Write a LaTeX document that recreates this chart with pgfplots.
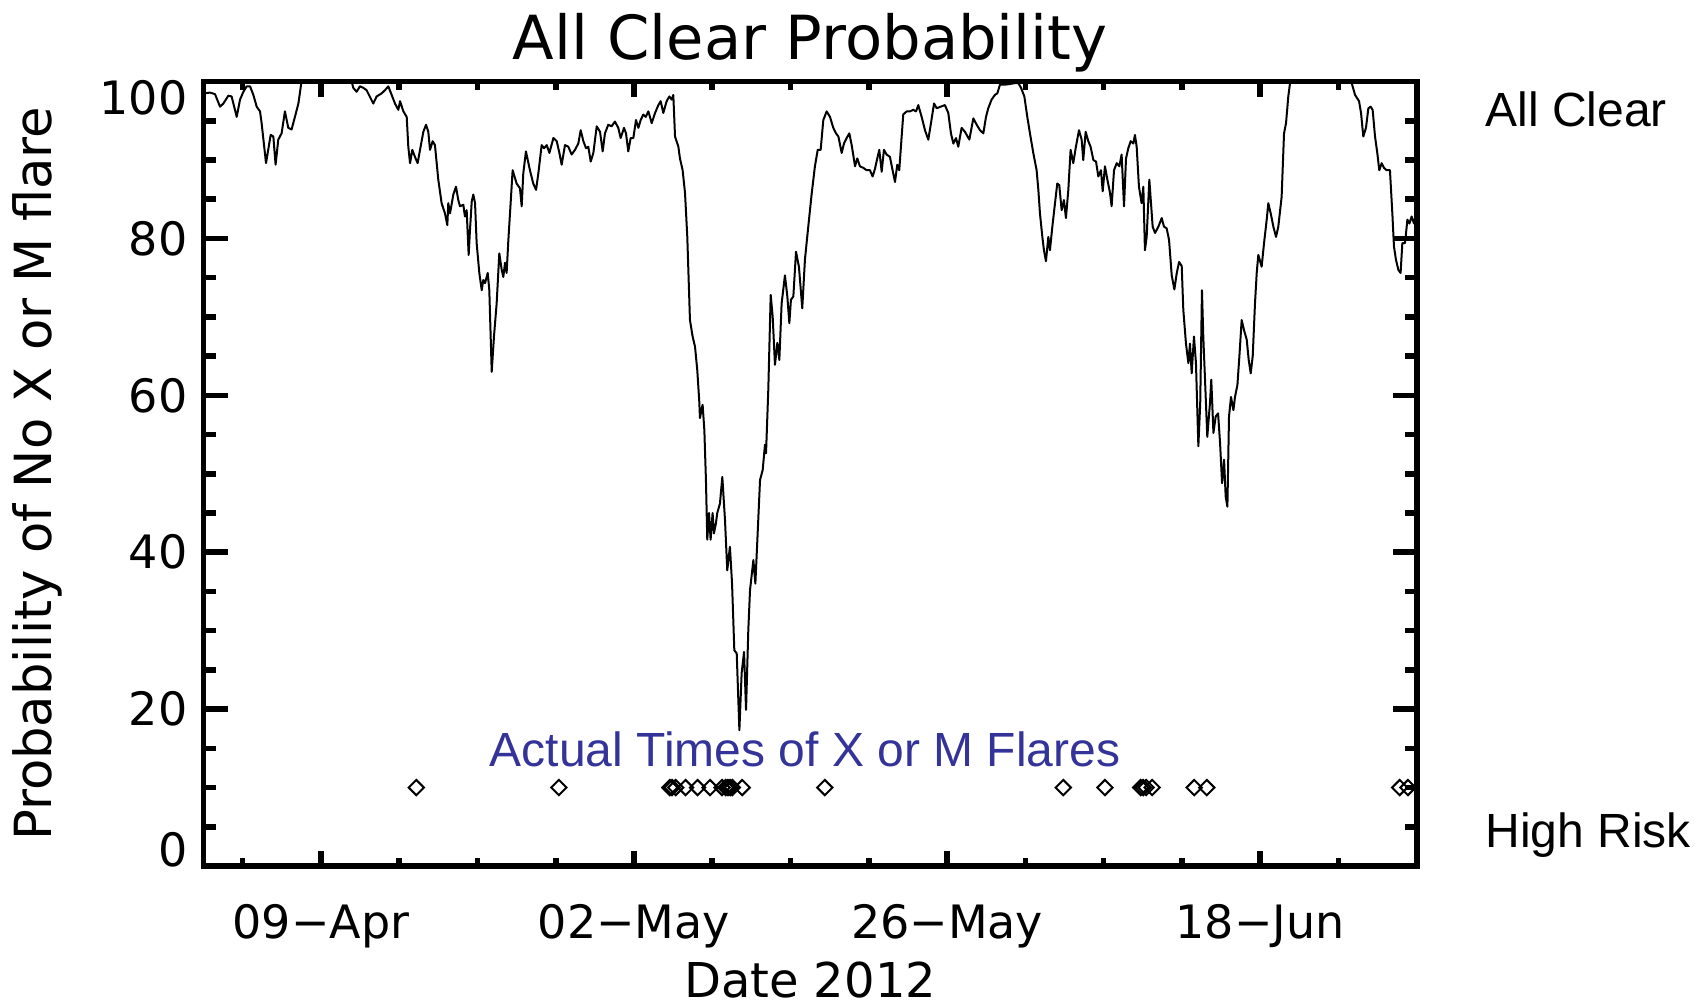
\documentclass[border=0pt]{standalone}
\usepackage{fontspec}
\setmainfont{DejaVu Sans}
\newfontfamily\lib{Liberation Sans}
\usepackage{pgfplots}
\usepackage{pgfplotstable}
\pgfplotsset{compat=1.18}
\definecolor{annot}{RGB}{51,51,153}

\pgfplotstableread{
x y
-0.81 98.8
-0.70 98.5
-0.33 98.6
0.05 98.4
0.43 96.8
0.68 97.2
1.05 98.2
1.30 98.1
1.68 95.5
1.93 97.7
2.18 98.7
2.43 99.4
2.68 99.4
2.93 98.3
3.18 96.8
3.43 96.2
3.55 94.7
3.88 89.6
4.23 93.2
4.43 93.0
4.60 89.4
4.80 92.6
5.05 93.4
5.30 96.2
5.55 94.1
5.80 93.9
6.05 95.5
6.31 97.2
6.51 99.6
6.70 102
8.50 104
10.15 102
10.31 100
10.43 99.2
10.68 98.7
10.93 99.4
11.18 99.2
11.43 98.9
11.93 97.2
12.18 98.1
12.56 98.5
12.81 98.9
13.06 99.4
13.31 98.3
13.56 97.2
13.81 96.4
13.94 97.5
14.19 96.2
14.44 95.5
14.56 91.7
14.69 89.6
14.86 91.3
15.06 90.4
15.26 89.6
15.44 91.3
15.69 93.6
15.89 94.5
16.06 93.6
16.19 91.3
16.39 92.4
16.56 91.9
16.81 87.5
17.06 84.5
17.31 83.2
17.49 81.7
17.56 84.5
17.69 83.2
17.94 85.6
18.14 86.6
18.31 84.9
18.44 84.1
18.69 84.3
18.81 82.8
18.94 83.6
19.09 77.9
19.19 81.1
19.32 84.7
19.44 85.6
19.57 84.5
19.69 79.4
19.89 75.6
20.07 73.4
20.19 74.7
20.32 74.3
20.52 75.6
20.64 73.4
20.82 63.0
20.99 67.5
21.19 71.7
21.39 78.1
21.57 76.0
21.69 75.1
21.82 76.9
21.94 75.6
22.07 79.8
22.24 84.5
22.39 88.7
22.69 87.0
22.94 86.4
23.07 84.1
23.19 88.3
23.39 91.1
23.69 88.7
23.94 87.0
24.15 86.2
24.32 88.3
24.57 91.9
24.75 91.5
24.95 91.9
25.15 90.9
25.45 92.8
25.70 92.4
25.90 90.9
26.07 89.4
26.32 91.9
26.57 91.7
26.82 90.7
27.07 91.3
27.32 92.1
27.50 93.8
27.70 92.4
27.90 91.5
28.07 91.7
28.25 89.8
28.45 90.9
28.70 94.3
28.95 93.6
29.15 91.1
29.32 93.4
29.57 94.5
29.82 94.3
30.07 94.9
30.32 94.1
30.50 92.8
30.75 94.1
30.90 93.4
31.07 91.1
31.25 92.8
31.45 92.8
31.65 95.1
31.83 94.1
32.00 95.1
32.20 95.8
32.38 95.5
32.58 96.2
32.83 94.7
33.08 96.0
33.33 97.0
33.50 97.5
33.70 96.0
33.95 97.5
34.15 98.1
34.33 97.7
34.45 98.3
34.58 93.0
34.83 91.7
34.95 90.2
35.15 88.7
35.33 85.8
35.50 80.2
35.70 69.6
35.90 67.5
36.08 66.2
36.25 63.2
36.40 59.2
36.45 57.1
36.65 58.8
36.78 55.6
36.90 49.2
37.00 41.6
37.13 45.0
37.25 41.6
37.40 45.0
37.50 42.4
37.65 43.7
37.75 45.0
37.95 46.2
38.13 49.6
38.33 44.1
38.50 37.7
38.70 40.7
38.86 36.0
39.03 27.5
39.21 27.1
39.41 17.3
39.58 24.6
39.76 27.3
39.91 19.9
40.08 30.1
40.21 35.2
40.46 39.0
40.61 36.0
40.76 41.6
40.96 49.2
41.16 50.5
41.33 53.7
41.41 52.6
41.58 60.7
41.76 72.8
41.91 70.0
42.08 63.9
42.26 66.7
42.41 64.5
42.58 71.7
42.83 75.3
43.01 72.6
43.16 69.2
43.28 72.2
43.46 72.6
43.66 78.3
43.88 76.4
44.13 71.1
44.33 77.3
44.58 81.5
44.83 85.6
45.08 89.2
45.29 91.3
45.51 91.3
45.71 95.1
45.96 96.2
46.21 95.5
46.46 94.1
46.66 93.4
46.84 93.0
47.09 90.9
47.26 92.1
47.46 92.8
47.66 93.4
47.84 91.9
48.09 89.2
48.26 90.2
48.46 89.2
48.71 89.0
48.96 88.7
49.21 88.7
49.41 87.9
49.59 88.9
49.76 90.2
49.91 91.3
50.09 88.5
50.26 91.3
50.46 90.7
50.71 90.4
50.91 88.7
51.09 87.2
51.26 89.4
51.41 88.7
51.59 93.0
51.71 95.8
51.96 96.2
52.21 96.2
52.46 96.4
52.67 96.2
52.84 97.0
53.09 95.5
53.34 93.8
53.59 92.6
53.79 94.7
54.02 97.2
54.22 96.6
54.52 96.8
54.84 97.0
55.09 96.0
55.29 93.4
55.47 92.1
55.67 92.8
55.84 91.7
56.09 94.1
56.34 93.6
56.67 92.6
56.97 95.3
57.22 94.5
57.47 93.8
57.72 93.4
57.92 95.5
58.09 96.6
58.34 97.7
58.59 98.3
58.77 98.5
58.97 99.6
59.35 99.6
59.72 99.7
60.10 99.8
60.35 99.8
60.55 99.2
60.80 98.1
61.02 95.5
61.22 93.4
61.47 90.9
61.72 88.7
61.85 86.2
61.97 83.2
62.15 80.2
62.27 78.5
62.42 77.1
62.60 80.2
62.72 78.5
62.90 81.5
63.10 84.5
63.27 87.0
63.42 86.8
63.60 83.6
63.77 84.9
63.92 82.6
64.10 86.2
64.27 91.3
64.47 89.6
64.67 91.7
64.90 93.8
65.10 92.6
65.22 90.0
65.40 93.6
65.60 92.4
65.77 91.7
65.98 90.0
66.18 89.8
66.35 87.9
66.55 88.7
66.68 86.0
66.85 89.2
67.03 87.5
67.23 85.8
67.35 84.1
67.53 88.7
67.73 89.6
67.93 89.2
68.10 90.7
68.28 84.1
68.43 90.2
68.60 91.5
68.78 92.4
68.98 92.1
69.10 93.2
69.23 91.7
69.40 86.6
69.60 84.5
69.73 86.6
69.85 78.5
69.98 80.2
70.18 87.5
70.43 81.5
70.61 80.7
70.86 81.5
71.11 82.6
71.28 81.5
71.48 81.3
71.66 79.8
71.86 75.3
72.06 73.5
72.23 75.5
72.41 77.0
72.61 76.5
72.73 70.9
72.93 66.6
73.11 64.1
73.23 66.6
73.36 62.8
73.53 67.5
73.68 64.1
73.86 53.5
74.00 59.0
74.13 73.4
74.23 67.5
74.36 62.0
74.53 54.7
74.73 59.0
74.83 62.0
74.99 55.2
75.16 57.3
75.34 57.7
75.49 53.9
75.64 48.8
75.79 51.8
75.91 47.1
76.04 45.8
76.16 57.3
76.31 59.8
76.49 58.1
76.61 59.8
76.79 61.3
76.94 65.0
77.11 69.6
77.29 68.3
77.49 67.1
77.64 64.5
77.79 62.8
77.94 65.0
78.11 71.7
78.24 75.6
78.36 77.9
78.61 76.4
78.79 79.4
78.99 82.4
79.11 84.5
79.29 83.2
79.49 81.5
79.69 80.2
79.86 81.5
80.11 85.3
80.29 93.4
80.44 94.7
80.61 98.1
80.74 99.8
80.90 102
83.00 104
85.20 102
85.37 99.8
85.62 98.3
85.92 97.5
86.07 96.0
86.24 93.0
86.44 94.1
86.62 96.6
86.79 96.8
86.94 96.4
87.12 93.0
87.29 90.9
87.44 88.7
87.62 89.6
87.79 89.0
87.99 88.7
88.24 88.7
88.42 83.2
88.54 79.0
88.69 77.3
88.87 76.0
89.04 75.6
89.17 79.4
89.37 79.4
89.55 82.4
89.70 81.9
89.87 82.8
90.05 81.9
90.20 83.2
90.25 83.0
}\probdata

\pgfplotstableread{
x y
15.16 10
25.86 10
34.19 10
34.36 10
34.63 10
35.37 10
36.27 10
37.21 10
38.11 10
38.38 10
38.55 10
38.72 10
38.88 10
39.62 10
45.82 10
63.72 10
66.85 10
69.53 10
69.72 10
69.94 10
70.39 10
73.55 10
74.49 10
88.97 10
89.59 10
}\flaredata

\begin{document}
\begin{tikzpicture}
\useasboundingbox (-50.875pt,-34.25pt) rectangle (376.125pt,216.5pt);
\begin{axis}[
  scale only axis, width=303.3pt, height=196.1pt,
  xmin=-0.8125, xmax=90.25, ymin=0, ymax=100,
  axis line style={line width=1.4pt},
  tick style={line width=1.4pt, black},
  tick align=inside,
  xtick={8,31.5,55,78.5},
  xticklabels={09−Apr,02−May,26−May,18−Jun},
  minor xtick={2.125,13.875,19.75,25.625,37.375,43.25,49.125,60.875,66.75,72.625,84.375},
  ytick={0,20,40,60,80,100},
  yticklabels={\raisebox{4pt}{0},20,40,60,80,\raisebox{-4pt}{100}},
  minor y tick num=3,
  major tick length=3.75pt, minor tick length=2pt,
  x tick label style={font=\fontsize{11.5}{12}\selectfont, anchor=base, inner sep=0pt, yshift=-18.25pt},
  y tick label style={font=\fontsize{11.5}{12}\selectfont, anchor=base east, inner sep=0pt, xshift=-3.8pt, yshift=-4.19pt},
  ylabel={Probability of No X or M flare},
  ylabel style={at={(axis description cs:-0.1251,0.5)}, anchor=base, inner sep=0pt, font=\fontsize{12.8}{13}\selectfont},
]
\addplot[black, line width=0.5pt, line join=round, mark=none] table[x=x,y=y] {\probdata};
\addplot[only marks, mark=square, mark size=1.35pt, mark options={rotate=45, line width=0.5pt, black}] table[x=x,y=y] {\flaredata};
\end{axis}
\begin{axis}[
  scale only axis, width=303.3pt, height=196.1pt,
  xmin=-0.8125, xmax=90.25, ymin=0, ymax=100,
  axis line style={line width=1.4pt},
  tick style={line width=1.4pt, black},
  tick align=inside,
  xtick=\empty,
  ytick={0,20,40,60,80,100}, yticklabels={},
  minor y tick num=3,
  major tick length=6pt, minor tick length=3pt,
]
\end{axis}
\node[font=\fontsize{15.2}{16}\selectfont, anchor=base, inner sep=0pt] at (151.65pt,201.5pt) {All Clear Probability};
\node[font=\fontsize{12}{13}\selectfont, anchor=base, inner sep=0pt] at (151.65pt,-32.9pt) {Date 2012};
\node[font=\lib\fontsize{12}{13}\selectfont, anchor=base west, inner sep=0pt] at (320.3pt,184.95pt) {All Clear};
\node[font=\lib\fontsize{12}{13}\selectfont, anchor=base west, inner sep=0pt] at (320.3pt,4.5pt) {High Risk};
\node[font=\lib\fontsize{12}{13}\selectfont, text=annot, anchor=base, inner sep=0pt] at (150.4pt,24.85pt) {Actual Times of X or M Flares};
\end{tikzpicture}
\end{document}
